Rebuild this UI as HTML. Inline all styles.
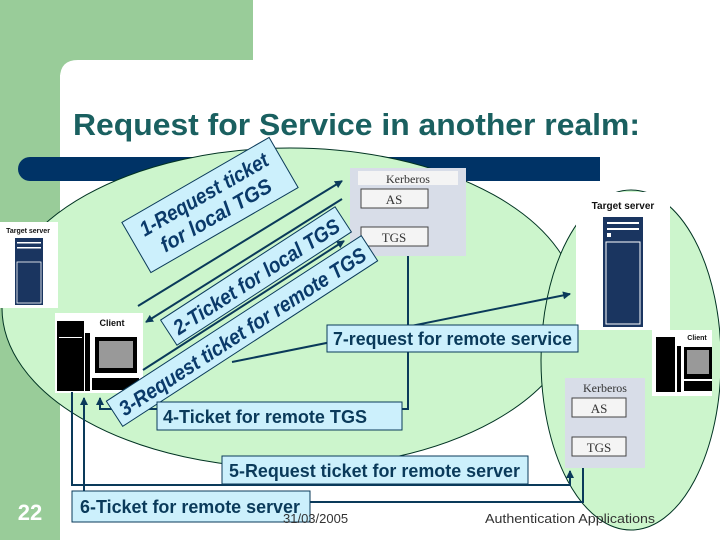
<!DOCTYPE html>
<html><head><meta charset="utf-8"><style>
body{margin:0;width:720px;height:540px;overflow:hidden;background:#fff}
svg{display:block}
text{font-family:"Liberation Sans",sans-serif}
</style></head><body>
<svg width="720" height="540" viewBox="0 0 720 540">
<defs>
<marker id="a" markerWidth="8" markerHeight="8" refX="7" refY="4" orient="auto" markerUnits="userSpaceOnUse"><path d="M0,0 L8,4 L0,8 z" fill="#0a3a5a"/></marker>
</defs>
<rect x="0" y="0" width="253" height="80" fill="#99cc99"/>
<rect x="0" y="0" width="60" height="540" fill="#99cc99"/>
<path d="M60,540 L60,78 Q60,60 78,60 L253,60 L253,80 L60,80 Z" fill="#fff"/>
<rect x="60" y="75" width="660" height="465" fill="#fff"/>
<text x="73" y="135" font-size="31" font-weight="bold" fill="#1a6060" textLength="567" lengthAdjust="spacingAndGlyphs">Request for Service in another realm:</text>
<path d="M30,157 L600,157 L600,181 L30,181 A12,12 0 0 1 30,157 Z" fill="#003366"/>
<ellipse cx="290" cy="308" rx="288" ry="160" fill="#ccf5cc" stroke="#003322" stroke-width="1"/>
<ellipse cx="631" cy="360" rx="90" ry="170" fill="#ccf5cc" stroke="#003322" stroke-width="1"/>
<rect x="350" y="168" width="116" height="88" fill="#d8dde8"/>
<rect x="358" y="171" width="100" height="14" fill="#f4f4f4"/>
<text x="408" y="183" font-size="12" text-anchor="middle" fill="#333" style="font-family:'Liberation Serif',serif">Kerberos</text>
<rect x="361" y="189" width="67" height="19" fill="#f4f4f4" stroke="#444"/>
<text x="394" y="204" font-size="13" text-anchor="middle" style="font-family:'Liberation Serif',serif" fill="#333">AS</text>
<rect x="361" y="227" width="67" height="19" fill="#f4f4f4" stroke="#444"/>
<text x="394" y="242" font-size="13" text-anchor="middle" style="font-family:'Liberation Serif',serif" fill="#333">TGS</text>
<rect x="565" y="378" width="80" height="90" fill="#d8dde8"/>
<text x="605" y="392" font-size="12" text-anchor="middle" style="font-family:'Liberation Serif',serif" fill="#333">Kerberos</text>
<rect x="572" y="398" width="54" height="19" fill="#f4f4f4" stroke="#444"/>
<text x="599" y="413" font-size="13" text-anchor="middle" style="font-family:'Liberation Serif',serif" fill="#333">AS</text>
<rect x="572" y="437" width="54" height="19" fill="#f4f4f4" stroke="#444"/>
<text x="599" y="452" font-size="13" text-anchor="middle" style="font-family:'Liberation Serif',serif" fill="#333">TGS</text>
<rect x="576" y="192" width="94" height="138" fill="#fff"/>
<text x="623" y="209" font-size="10" font-weight="bold" text-anchor="middle" fill="#111">Target server</text>
<rect x="603" y="217" width="40" height="110" fill="#1a3560"/>
<rect x="606" y="242" width="34" height="82" fill="none" stroke="#fff"/>
<rect x="607" y="222" width="32" height="2" fill="#fff"/><rect x="607" y="228" width="32" height="2" fill="#fff"/>
<rect x="607" y="233" width="4" height="4" fill="#fff"/>
<rect x="0" y="222" width="58" height="86" fill="#fff"/>
<text x="28" y="233" font-size="7" font-weight="bold" text-anchor="middle" fill="#111">Target server</text>
<rect x="15" y="238" width="28" height="67" fill="#1a3560"/>
<rect x="17" y="262" width="24" height="41" fill="none" stroke="#fff" stroke-width="0.8"/>
<rect x="17" y="242" width="24" height="1.5" fill="#fff"/><rect x="17" y="247" width="24" height="1.5" fill="#fff"/>
<rect x="55" y="313" width="88" height="80" fill="#fff"/>
<text x="112" y="326" font-size="9" font-weight="bold" text-anchor="middle" fill="#111">Client</text>
<rect x="57" y="321" width="27" height="70" fill="#000"/>
<rect x="59" y="337" width="23" height="1" fill="#fff"/>
<rect x="85" y="333" width="5" height="58" fill="#000"/>
<rect x="95" y="337" width="42" height="36" fill="#000"/><rect x="99" y="341" width="34" height="27" fill="#999"/>
<rect x="92" y="378" width="47" height="12" fill="#000"/>
<rect x="652" y="330" width="60" height="66" fill="#fff"/>
<text x="697" y="340" font-size="7" font-weight="bold" text-anchor="middle" fill="#111">Client</text>
<rect x="656" y="337" width="19" height="55" fill="#000"/>
<rect x="677" y="346" width="4" height="46" fill="#000"/>
<rect x="684" y="347" width="28" height="32" fill="#000"/><rect x="687" y="350" width="22" height="24" fill="#999"/>
<rect x="684" y="381" width="28" height="10" fill="#000"/>
<g stroke="#0a3a5a" stroke-width="2" fill="none">
<line x1="138" y1="306" x2="342" y2="181" marker-end="url(#a)"/>
<line x1="342" y1="199" x2="146" y2="322" marker-end="url(#a)"/>
<line x1="143" y1="370" x2="344" y2="241" marker-end="url(#a)"/>
<line x1="232" y1="362" x2="570" y2="294" marker-end="url(#a)"/>
<polyline points="408,256 408,409 100,409 100,398" marker-end="url(#a)"/>
<polyline points="72,392 72,485 570,485 570,471" marker-end="url(#a)"/>
<polyline points="583,468 583,502 300,502"/>
<polyline points="84,492 84,398" marker-end="url(#a)"/>
</g>
<g transform="translate(210,205) rotate(-30)">
<rect x="-85" y="-29" width="170" height="58" fill="#ccf0fc" stroke="#0a3a5a"/>
<text x="0" y="-5" font-size="21" font-weight="bold" font-style="italic" text-anchor="middle" fill="#0a3a6a" textLength="145" lengthAdjust="spacingAndGlyphs">1-Request ticket</text>
<text x="0" y="19" font-size="21" font-weight="bold" font-style="italic" text-anchor="middle" fill="#0a3a6a" textLength="125" lengthAdjust="spacingAndGlyphs">for local TGS</text>
</g>
<g transform="translate(256,276) rotate(-33)">
<rect x="-104" y="-15" width="208" height="30" fill="#ccf0fc" stroke="#0a3a5a"/>
<text x="0" y="8" font-size="21" font-weight="bold" font-style="italic" text-anchor="middle" fill="#0a3a6a" textLength="194" lengthAdjust="spacingAndGlyphs">2-Ticket for local TGS</text>
</g>
<g transform="translate(242,331) rotate(-33)">
<rect x="-152" y="-15" width="304" height="30" fill="#ccf0fc" stroke="#0a3a5a"/>
<text x="0" y="8" font-size="21" font-weight="bold" font-style="italic" text-anchor="middle" fill="#0a3a6a" textLength="290" lengthAdjust="spacingAndGlyphs">3-Request ticket for remote TGS</text>
</g>
<g font-size="18" font-weight="bold" fill="#0a3a5a">
<rect x="327" y="325" width="251" height="27" fill="#ccf0fc" stroke="#0a3a5a"/>
<text x="333" y="345" textLength="239" lengthAdjust="spacingAndGlyphs">7-request for remote service</text>
<rect x="157" y="402" width="245" height="28" fill="#ccf0fc" stroke="#0a3a5a"/>
<text x="163" y="423" textLength="204" lengthAdjust="spacingAndGlyphs">4-Ticket for remote TGS</text>
<rect x="222" y="456" width="306" height="28" fill="#ccf0fc" stroke="#0a3a5a"/>
<text x="229" y="477" textLength="291" lengthAdjust="spacingAndGlyphs">5-Request ticket for remote server</text>
<rect x="72" y="491" width="238" height="31" fill="#ccf0fc" stroke="#0a3a5a"/>
<text x="80" y="513" textLength="220" lengthAdjust="spacingAndGlyphs">6-Ticket for remote server</text>
</g>
<text x="30" y="520" font-size="22" font-weight="bold" text-anchor="middle" fill="#fff">22</text>
<text x="283" y="523" font-size="13" fill="#333">31/03/2005</text>
<text x="485" y="523" font-size="13" fill="#333" textLength="170" lengthAdjust="spacingAndGlyphs">Authentication Applications</text>
</svg>
</body></html>
